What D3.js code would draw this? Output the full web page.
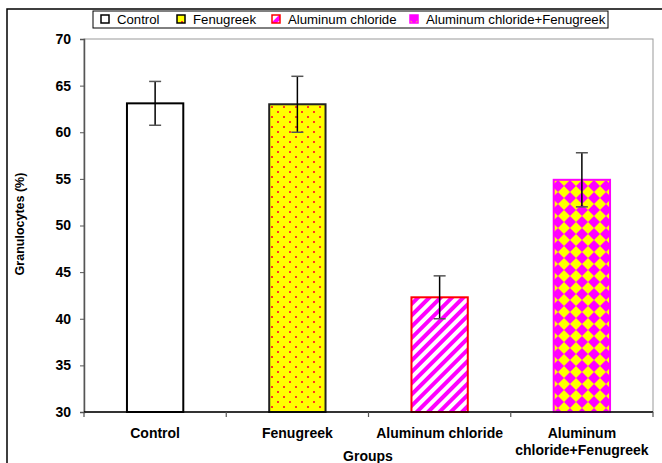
<!DOCTYPE html>
<html><head><meta charset="utf-8">
<script src="https://cdn.jsdelivr.net/npm/d3@7"></script>
<style>body{margin:0;background:#fff;} svg{display:block;font-family:"Liberation Sans",Arial,sans-serif;}</style>
</head><body>
<svg id="c" width="662" height="463"></svg>
<script>
const categories = ["Control", "Fenugreek", "Aluminum chloride", "Aluminum chloride+Fenugreek"];
const categoryLabels = [["Control"], ["Fenugreek"], ["Aluminum chloride"], ["Aluminum", "chloride+Fenugreek"]];
const values = [63.1, 63.0, 42.3, 54.9];
const errors = [2.35, 3.0, 2.3, 2.9];
const yTicks = [30, 35, 40, 45, 50, 55, 60, 65, 70];

const svg = d3.select("#c");
const M = {l: 84, t: 39, r: 653, b: 412};
const x = d3.scaleBand().domain(categories).range([M.l, M.r]).paddingInner(0.59).paddingOuter(0.295);
const y = d3.scaleLinear().domain([30, 70]).range([M.b, M.t]);

const defs = svg.append("defs");
// Fenugreek: yellow with red dots
const p1 = defs.append("pattern").attr("id","pFen").attr("patternUnits","userSpaceOnUse").attr("width",12).attr("height",10);
p1.append("rect").attr("width",12).attr("height",10).attr("fill","#ffff00");
p1.append("rect").attr("x",1).attr("y",1).attr("width",2).attr("height",2).attr("fill","#ff3b1e");
p1.append("rect").attr("x",7).attr("y",6).attr("width",2).attr("height",2).attr("fill","#ff3b1e");
// Aluminum chloride: magenta diagonal stripes
const p2 = defs.append("pattern").attr("id","pAl").attr("patternUnits","userSpaceOnUse").attr("width",8).attr("height",8)
  .attr("patternTransform","rotate(45)");
p2.append("rect").attr("width",8).attr("height",8).attr("fill","#ffffff");
p2.append("rect").attr("width",4).attr("height",8).attr("fill","#ff00ff");
// Combo: yellow with magenta diamonds
const p3 = defs.append("pattern").attr("id","pCombo").attr("patternUnits","userSpaceOnUse").attr("width",12).attr("height",12);
p3.append("rect").attr("width",12).attr("height",12).attr("fill","#ffff00");
p3.append("path").attr("d","M6,0 L12,6 L6,12 L0,6 Z").attr("fill","#ff00ff");

const fills = ["#ffffff", "url(#pFen)", "url(#pAl)", "url(#pCombo)"];
const strokes = ["#000000", "#222222", "#ff0000", "#ff00ff"];

// Outer frame
svg.append("rect").attr("x",7).attr("y",9).attr("width",700).attr("height",500)
  .attr("fill","none").attr("stroke","#000").attr("stroke-width",1.5);

// Plot area border
svg.append("rect").attr("x",M.l).attr("y",M.t).attr("width",M.r-M.l).attr("height",M.b-M.t)
  .attr("fill","none").attr("stroke","#999").attr("stroke-width",1);

// Bars
svg.selectAll("rect.bar").data(categories).enter().append("rect").attr("class","bar")
  .attr("x", d => x(d)+1).attr("width", x.bandwidth()-2)
  .attr("y", (d,i) => y(values[i])).attr("height", (d,i) => y(30)-y(values[i]))
  .attr("fill", (d,i) => fills[i]).attr("stroke", (d,i) => strokes[i]).attr("stroke-width",2);

// Error bars
const eg = svg.append("g");
categories.forEach((c,i) => {
  const cx = x(c) + x.bandwidth()/2;
  eg.append("line").attr("x1",cx).attr("x2",cx).attr("y1",y(values[i]+errors[i])).attr("y2",y(values[i]-errors[i]))
    .attr("stroke","#000").attr("stroke-width",1.5);
  [values[i]+errors[i], values[i]-errors[i]].forEach(v => {
    eg.append("line").attr("x1",cx-6).attr("x2",cx+6).attr("y1",y(v)).attr("y2",y(v))
      .attr("stroke","#555").attr("stroke-width",1.5);
  });
});

// Y axis
const ya = svg.append("g").attr("transform",`translate(${M.l},0)`)
  .call(d3.axisLeft(y).tickValues(yTicks).tickSize(4).tickPadding(9).tickFormat(d3.format("d")));
ya.select(".domain").attr("stroke","#555").attr("stroke-width",1.5);
ya.selectAll(".tick line").attr("stroke","#555");
ya.selectAll("text").attr("font-size",14).attr("font-weight","bold").attr("fill","#000")
  .attr("font-family","'Liberation Sans',Arial,sans-serif");

// X axis line and ticks at band boundaries
svg.append("line").attr("x1",M.l).attr("x2",M.r).attr("y1",M.b).attr("y2",M.b).attr("stroke","#000").attr("stroke-width",1.5);
const step = x.step();
d3.range(0, categories.length+1).forEach(k => {
  const tx = M.l + k*step;
  svg.append("line").attr("x1",tx).attr("x2",tx).attr("y1",M.b).attr("y2",M.b+5).attr("stroke","#555").attr("stroke-width",1.2);
});

// Category labels
categories.forEach((c,i) => {
  const cx = x(c) + x.bandwidth()/2;
  categoryLabels[i].forEach((ln,j) => {
    svg.append("text").attr("x",cx).attr("y",438 + j*17).attr("text-anchor","middle")
      .attr("font-size",14).attr("font-weight","bold").text(ln);
  });
});

// Axis titles
svg.append("text").attr("x",368).attr("y",461).attr("text-anchor","middle").attr("font-size",14).attr("font-weight","bold").text("Groups");
svg.append("text").attr("transform","translate(24,224) rotate(-90)").attr("text-anchor","middle")
  .attr("font-size",12.5).attr("font-weight","bold").text("Granulocytes (%)");

// Legend
const lg = svg.append("g");
lg.append("rect").attr("x",93).attr("y",11).attr("width",515).attr("height",17).attr("fill","#fff").attr("stroke","#000").attr("stroke-width",1);
const lx = [101, 177, 272, 410];
categories.forEach((c,i) => {
  lg.append("rect").attr("x",lx[i]).attr("y",15).attr("width",8).attr("height",8)
    .attr("fill",fills[i]).attr("stroke", i===1 ? "#000" : strokes[i]).attr("stroke-width",1.5);
  lg.append("text").attr("x",lx[i]+16).attr("y",24).attr("font-size",13.2).text(c);
});
</script>
</body></html>
